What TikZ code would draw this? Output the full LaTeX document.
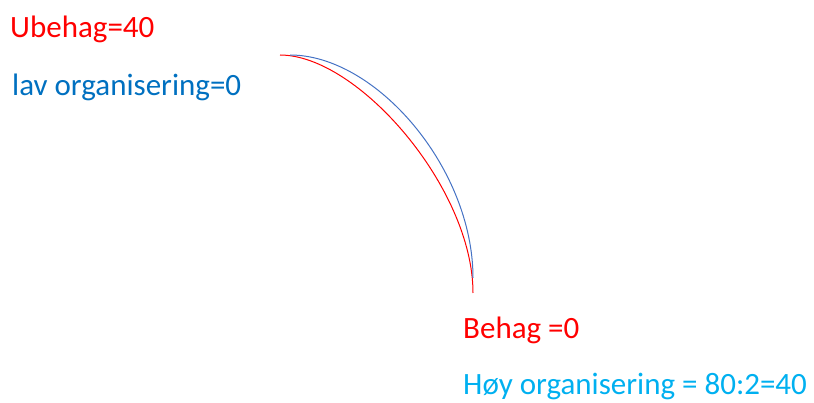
\documentclass[tikz,border=0pt]{standalone}
\usepackage{fontspec}
\setmainfont{Carlito}
\definecolor{myred}{HTML}{FF0000}
\definecolor{myblue}{HTML}{0070C0}
\definecolor{mylight}{HTML}{00B0F0}
\definecolor{arcblue}{HTML}{4472C4}
\begin{document}
\begin{tikzpicture}[x=1pt,y=-1pt,
  lbl/.style={anchor=base west,inner sep=0pt,font=\fontsize{31}{36}\selectfont},
  curve/.style={line width=1pt}]
\useasboundingbox (0,0) rectangle (814,403);
\node[lbl,text=myred] (ub) at (10,38) {Ubehag=40};
\node[lbl,text=myblue] (lav) at (12,96) {lav organisering=0};
\node[lbl,text=myred] (be) at (463,338) {Behag =0};
\node[lbl,text=mylight] (hoy) at (463,394) {Høy organisering = 80:2=40};
\coordinate (rs) at (280,55);
\coordinate (re) at (473,293);
\coordinate (bs) at (290,55);
\coordinate (bend) at (473,278);
\draw[curve,myred] (rs) .. controls (358,55) and (473,188) .. (re);
\draw[curve,arcblue] (bs) .. controls (376,55) and (473,168) .. (bend);
\end{tikzpicture}
\end{document}
